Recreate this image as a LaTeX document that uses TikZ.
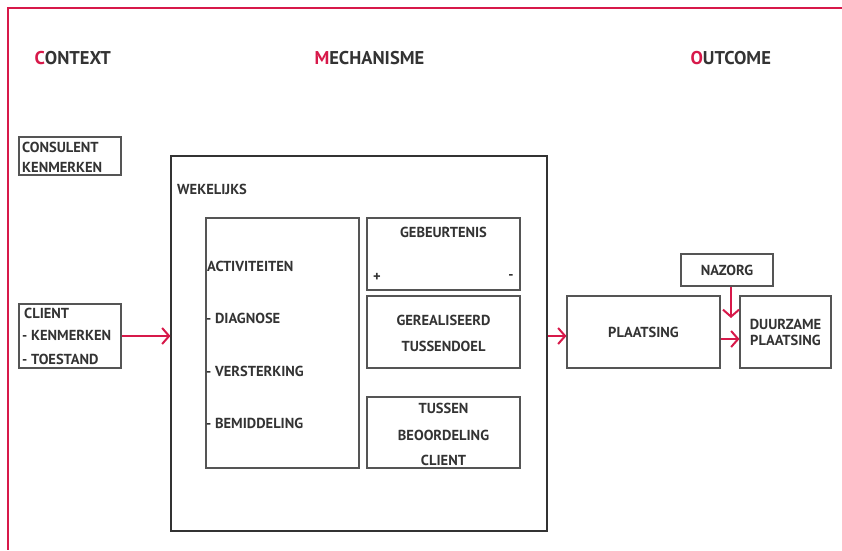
\documentclass[tikz,border=0pt]{standalone}
\usepackage{fontspec}
\setmainfont{PT Sans}
\usetikzlibrary{arrows.meta}
\definecolor{greymain}{HTML}{333333}
\definecolor{greybox}{HTML}{555555}
\definecolor{redacc}{HTML}{D7194A}
\tikzset{every node/.append style={font=\bfseries\fontsize{14.5}{16}\selectfont,text=greymain}}
\begin{document}
\begin{tikzpicture}[x=1pt,y=-1pt,
    box/.style={draw=greybox,line width=1.1pt,inner sep=0pt},
    head/.style={anchor=west,font=\bfseries\fontsize{18.5}{20}\selectfont},
    lbl/.style={anchor=west,inner sep=0pt},
    flow/.style={-{Straight Barb[length=7pt,width=16pt,line width=2pt]},redacc,line width=2pt}]
  \useasboundingbox (0,0) rectangle (842,550);
  % frame
  \draw[redacc,line width=2pt] (842,8) -- (8,8) -- (8,550);
  \node[head] (ctx) at (31,58) {\textcolor{redacc}{C}ONTEXT};
  \node[head] (mech) at (311,58) {\textcolor{redacc}{M}ECHANISME};
  \node[head] (out) at (687,58) {\textcolor{redacc}{O}UTCOME};

  % context
  \node[box,minimum width=102pt,minimum height=38pt] (cons) at (70,156) {};
  \node[lbl] at (22,147) {CONSULENT};
  \node[lbl] at (22,167) {KENMERKEN};
  \node[box,minimum width=102pt,minimum height=64pt] (client) at (70,336) {};
  \node[lbl] at (24,313) {CLIENT};
  \node[lbl] at (22,335) {- KENMERKEN};
  \node[lbl] at (22,359) {- TOESTAND};

  % mechanisme
  \node[box,draw=greymain,minimum width=376pt,minimum height=375pt] (week) at (359,343.5) {};
  \node[lbl] at (177,189) {WEKELIJKS};
  \node[box,minimum width=153pt,minimum height=250pt] (act) at (282.5,343) {};
  \node[lbl] at (207,266) {ACTIVITEITEN};
  \foreach \y/\txt in {318/DIAGNOSE,371/VERSTERKING,423/BEMIDDELING}
    \node[lbl] at (206,\y) {- \txt};
  \node[box,minimum width=153pt,minimum height=72pt] (geb) at (443.5,254) {};
  \node at (443.5,232) {GEBEURTENIS};
  \node at (377,277) {+};
  \node at (511,277) {-};
  \node[box,minimum width=153pt,minimum height=72pt] (ger) at (443.5,332) {};
  \node at (443.5,320) {GEREALISEERD};
  \node at (443.5,346) {TUSSENDOEL};
  \node[box,minimum width=153pt,minimum height=71pt] (tus) at (443.5,432.5) {};
  \node at (443.5,408) {TUSSEN};
  \node at (443.5,435) {BEOORDELING};
  \node at (443.5,460) {CLIENT};

  % outcome
  \node[box,minimum width=153pt,minimum height=72pt] (plaats) at (643.5,332) {PLAATSING};
  \node[box,minimum width=92pt,minimum height=32pt] (nazorg) at (727,270) {NAZORG};
  \node[box,minimum width=91pt,minimum height=72pt,align=center] (duur) at (785.5,332) {DUURZAME\\PLAATSING};
  \coordinate (nzend) at (731,318);

  \draw[flow] (client.east |- 0,336) -- (week.west |- 0,336);
  \draw[flow] (week.east |- 0,336) -- (plaats.west |- 0,336);
  \draw[flow] (plaats.east |- 0,339) -- (duur.west |- 0,339);
  \draw[flow] (nazorg.south -| nzend) -- (nzend);
\end{tikzpicture}
\end{document}
